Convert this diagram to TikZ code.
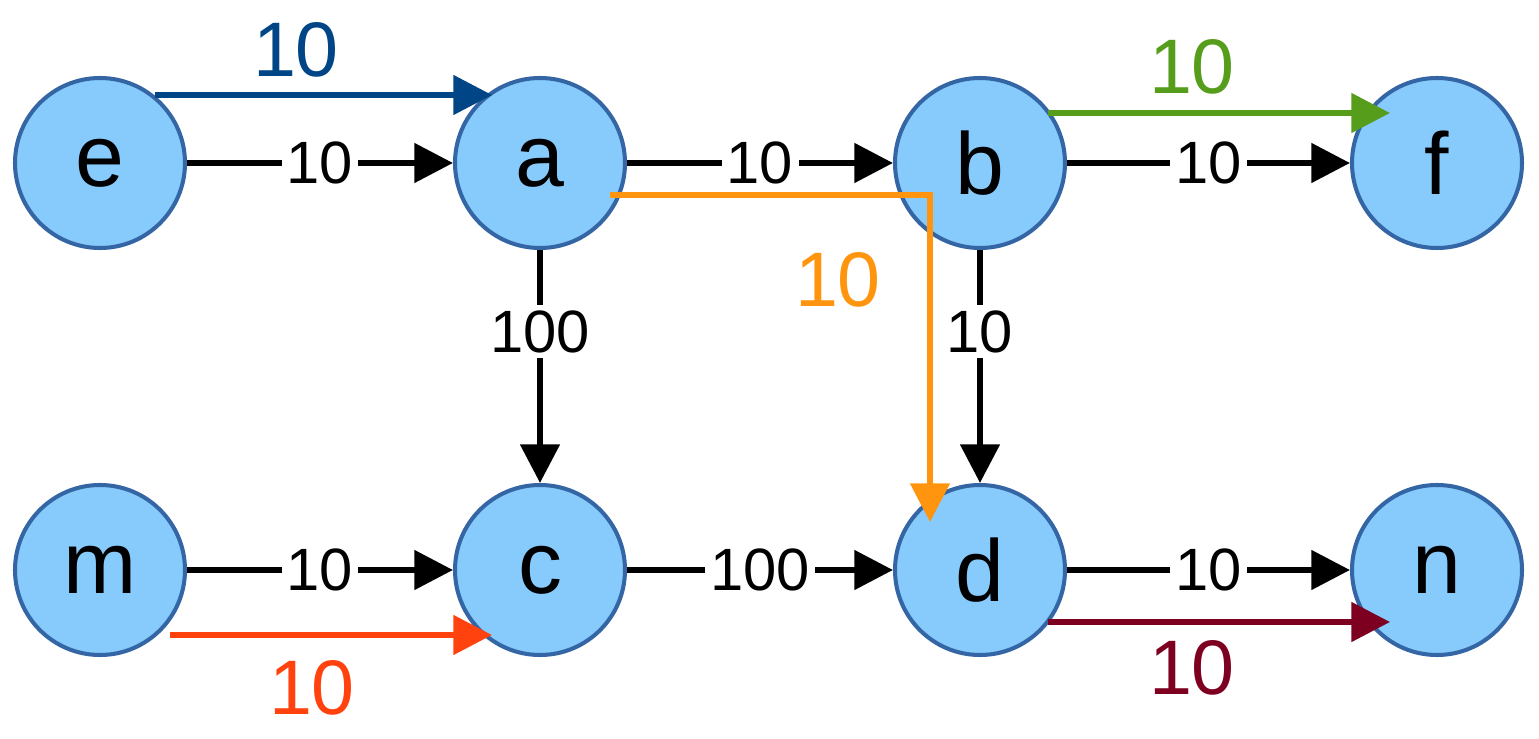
\documentclass[tikz,border=0pt]{standalone}
\usepackage{fontspec}
\setmainfont{Liberation Sans}
\usetikzlibrary{arrows.meta}
\definecolor{nodefill}{HTML}{87CAFC}
\definecolor{nodedraw}{HTML}{3465A4}
\definecolor{cblue}{HTML}{004586}
\definecolor{cgreen}{HTML}{579D1C}
\definecolor{corange}{HTML}{FF950E}
\definecolor{cred}{HTML}{FF420E}
\definecolor{cdark}{HTML}{7E0021}
\begin{document}
\begin{tikzpicture}[x=0.02cm,y=-0.02cm,
  vert/.style={circle,draw=nodedraw,fill=nodefill,line width=2.3pt,minimum size=170*0.02cm,inner sep=0pt,font=\fontsize{50}{50}\selectfont},
  edge/.style={line width=3.4pt,-{Triangle[length=22pt,width=22pt]}},
  lab/.style={fill=white,inner sep=3pt,font=\fontsize{34}{34}\selectfont},
  flow/.style={line width=3.4pt,-{Triangle[length=22pt,width=22pt]}},
  flab/.style={font=\fontsize{44}{44}\selectfont}]
\useasboundingbox (0,0) rectangle (1539,739);
\node[vert] (e) at (100,163) {e};
\node[vert] (a) at (540,163) {a};
\node[vert] (b) at (980,163) {b};
\node[vert] (f) at (1437,163) {f};
\node[vert] (m) at (100,570) {m};
\node[vert] (c) at (540,570) {c};
\node[vert] (d) at (980,570) {d};
\node[vert] (n) at (1437,570) {n};
\draw[edge] (e) -- node[lab]{10} (a);
\draw[edge] (a) -- node[lab]{10} (b);
\draw[edge] (b) -- node[lab]{10} (f);
\draw[edge] (m) -- node[lab]{10} (c);
\draw[edge] (c) -- node[lab]{100} (d);
\draw[edge] (d) -- node[lab]{10} (n);
\draw[edge] (a) -- node[lab,pos=0.35]{100} (c);
\draw[edge] (b) -- node[lab,pos=0.35]{10} (d);
% flows
\coordinate (e1) at (155,95); \coordinate (a1) at (492,95);
\draw[cblue,flow] (e1) -- (a1);
\node[flab,text=cblue] (l1) at (296,50) {10};
\coordinate (b1) at (1048,113); \coordinate (f1) at (1390,113);
\draw[cgreen,flow] (b1) -- (f1);
\node[flab,text=cgreen] (l2) at (1192,67) {10};
\coordinate (a2) at (610,195); \coordinate (k) at (930,195); \coordinate (d2) at (930,522);
\draw[corange,flow] (a2) -- (k) -- (d2);
\node[flab,text=corange] (l3) at (838,280) {10};
\coordinate (m1) at (170,635); \coordinate (c1) at (492,635);
\draw[cred,flow] (m1) -- (c1);
\node[flab,text=cred] (l4) at (312,688) {10};
\coordinate (d1) at (1048,622); \coordinate (n1) at (1390,622);
\draw[cdark,flow] (d1) -- (n1);
\node[flab,text=cdark] (l5) at (1192,668) {10};
\end{tikzpicture}
\end{document}
